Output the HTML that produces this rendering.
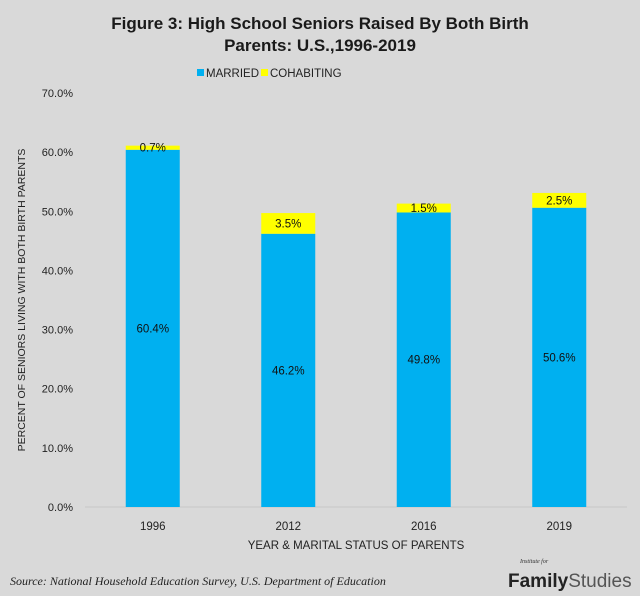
<!DOCTYPE html>
<html><head><meta charset="utf-8"><style>
body{margin:0;background:#d9d9d9;}
svg{display:block;font-family:"Liberation Sans",sans-serif;}
</style></head><body>
<svg width="640" height="596" viewBox="0 0 640 596">
<rect x="0" y="0" width="640" height="596" fill="#d9d9d9"/>
<text x="320" y="29" text-anchor="middle" font-size="17" font-weight="bold" fill="#1a1a1a">Figure 3: High School Seniors Raised By Both Birth</text>
<text x="320" y="51" text-anchor="middle" font-size="17" font-weight="bold" fill="#1a1a1a">Parents: U.S.,1996-2019</text>
<g>
<rect x="197" y="69" width="7" height="7" fill="#00b0f0"/>
<text x="206" y="77" font-size="11.5" fill="#222">MARRIED</text>
<rect x="261" y="69" width="7" height="7" fill="#ffff00"/>
<text x="270" y="77" font-size="11.5" fill="#222">COHABITING</text>
</g>
<g id="yticks"></g>
<line x1="85" y1="507" x2="627" y2="507" stroke="#c8c8c8" stroke-width="1"/>
<g id="bars"></g>
<text transform="translate(25,300) rotate(-90)" text-anchor="middle" font-size="10.5" fill="#222">PERCENT OF SENIORS LIVING WITH BOTH BIRTH PARENTS</text>
<text x="356" y="549" text-anchor="middle" font-size="11.5" fill="#222">YEAR &amp; MARITAL STATUS OF PARENTS</text>
<text x="10" y="585" font-family="Liberation Serif,serif" font-style="italic" font-size="12" fill="#222">Source: National Household Education Survey, U.S. Department of Education</text>
<text x="520" y="563" font-family="Liberation Serif,serif" font-style="italic" font-size="6" fill="#333">Institute for</text>
<text x="508" y="587" font-size="19" fill="#222"><tspan font-weight="bold">Family</tspan><tspan fill="#555">Studies</tspan></text>
</svg>
<script>
const categories=["1996","2012","2016","2019"];
const married=[60.4,46.2,49.8,50.6];
const cohabiting=[0.7,3.5,1.5,2.5];
const yTicks=[0,10,20,30,40,50,60,70];
const NS="http://www.w3.org/2000/svg";
const x0=85,x1=627,y0=507,yTop=93,yMax=70;
const y=v=>y0-(v/yMax)*(y0-yTop);
const band=(x1-x0)/categories.length;
const xc=i=>x0+band*(i+0.5);
const bw=54;
function mk(tag,attrs,parent,txt){const e=document.createElementNS(NS,tag);for(const k in attrs)e.setAttribute(k,attrs[k]);if(txt!==undefined)e.textContent=txt;parent.appendChild(e);return e;}
const yg=document.getElementById('yticks');
yTicks.forEach(t=>{const e=mk('text',{x:73,y:y(t)+4,'text-anchor':'end','font-size':'11',fill:'#222'},yg,t.toFixed(1)+'%');

});
const bg=document.getElementById('bars');
categories.forEach((c,i)=>{
const m=married[i],h=cohabiting[i];
const r1=mk('rect',{x:xc(i)-bw/2,y:y(m),width:bw,height:y0-y(m),fill:'#00b0f0'},bg);


const r2=mk('rect',{x:xc(i)-bw/2,y:y(m+h),width:bw,height:y(m)-y(m+h),fill:'#ffff00'},bg);


const l1=mk('text',{x:xc(i),y:(y(m)+y0)/2+4,'text-anchor':'middle','font-size':'11.5',fill:'#111'},bg,m.toFixed(1)+'%');


const l2=mk('text',{x:xc(i),y:(y(m)+y(m+h))/2+4,'text-anchor':'middle','font-size':'11.5',fill:'#111'},bg,h.toFixed(1)+'%');


const xl=mk('text',{x:xc(i),y:530,'text-anchor':'middle','font-size':'11.5',fill:'#222'},bg,c);


});
</script>
</body></html>
